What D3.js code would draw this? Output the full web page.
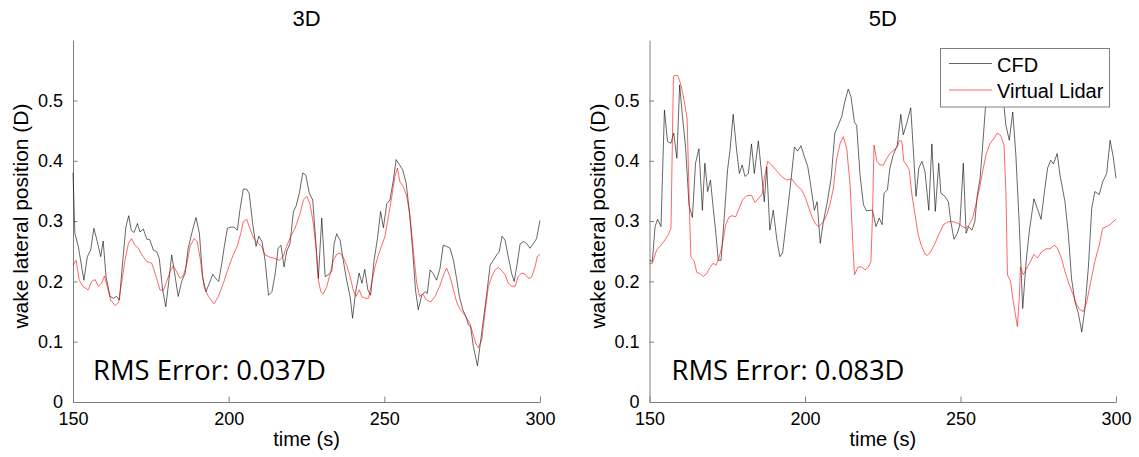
<!DOCTYPE html>
<html>
<head>
<meta charset="utf-8">
<script src="https://cdn.jsdelivr.net/npm/d3@7"></script>
<style>
  html, body { margin: 0; padding: 0; background: #fff; }
  svg { display: block; }
</style>
</head>
<body>
<svg id="chart" width="1139" height="457"></svg>
<script>
// Wake lateral position: CFD vs. virtual lidar, 3D and 5D downstream

const xTicks = [150, 200, 250, 300];
const yTicks = [0, 0.1, 0.2, 0.3, 0.4, 0.5];
const seriesNames = ["CFD", "Virtual Lidar"];
const panelTitles = ["3D", "5D"];
const rmsLabels = ["RMS Error: 0.037D", "RMS Error: 0.083D"];

// 3D — CFD
const t3Cfd = [150.0,150.6,151.7,153.5,154.6,155.7,156.7,157.8,158.9,159.7,160.6,161.9,163.0,164.0,164.9,166.0,167.0,167.9,168.7,169.6,170.7,171.5,172.6,173.7,174.7,175.8,176.9,177.7,178.8,179.8,180.7,181.7,182.8,183.8,184.9,186.0,187.0,188.4,189.5,190.6,191.6,192.7,193.8,194.9,195.8,196.8,197.8,198.6,199.6,200.6,201.7,202.8,203.6,204.7,205.8,206.6,207.7,208.8,209.7,210.7,211.7,212.8,213.9,214.9,215.9,216.8,217.8,218.6,219.7,220.8,221.6,222.7,223.8,224.8,225.9,227.0,228.1,228.8,229.9,231.0,232.0,233.1,233.9,234.7,235.8,236.8,237.9,239.0,239.8,240.7,241.9,242.8,243.7,244.7,245.6,246.7,247.8,248.8,249.7,250.8,251.8,252.9,253.8,254.8,255.9,257.0,258.0,259.1,260.0,260.9,262.0,263.1,263.8,264.7,265.7,266.8,267.9,268.9,270.0,271.1,272.2,273.2,274.1,275.2,276.2,277.0,277.7,278.6,279.9,281.8,282.9,284.0,285.0,286.1,286.9,287.8,288.8,289.8,290.9,291.7,292.7,293.6,294.7,295.7,296.8,297.9,298.9,300.0];
const v3Cfd = [0.380,0.280,0.258,0.202,0.241,0.252,0.288,0.266,0.241,0.267,0.208,0.175,0.172,0.175,0.169,0.235,0.291,0.309,0.285,0.281,0.296,0.282,0.287,0.270,0.269,0.252,0.249,0.238,0.186,0.158,0.197,0.244,0.208,0.175,0.200,0.213,0.255,0.285,0.306,0.280,0.208,0.183,0.197,0.212,0.205,0.200,0.230,0.258,0.288,0.290,0.290,0.285,0.318,0.353,0.353,0.346,0.296,0.258,0.275,0.266,0.235,0.177,0.183,0.211,0.255,0.260,0.224,0.249,0.263,0.316,0.324,0.346,0.380,0.376,0.346,0.335,0.258,0.205,0.305,0.208,0.211,0.216,0.263,0.279,0.268,0.235,0.202,0.175,0.139,0.180,0.214,0.197,0.220,0.186,0.177,0.235,0.271,0.316,0.289,0.329,0.335,0.368,0.402,0.394,0.385,0.363,0.318,0.252,0.186,0.153,0.177,0.183,0.180,0.219,0.213,0.202,0.222,0.260,0.258,0.255,0.235,0.205,0.175,0.153,0.142,0.128,0.125,0.092,0.060,0.136,0.180,0.227,0.235,0.244,0.249,0.275,0.268,0.241,0.213,0.200,0.230,0.262,0.266,0.263,0.255,0.263,0.271,0.301];

// 3D — Virtual Lidar
const t3Lidar = [150.0,151.0,152.0,153.3,154.9,156.0,157.1,158.1,159.2,160.1,161.0,162.1,163.5,164.6,165.6,166.7,167.8,168.8,169.9,171.0,172.1,173.7,175.3,176.7,177.9,179.0,180.1,181.2,182.2,183.3,184.4,185.4,186.5,187.6,188.9,189.9,191.0,192.1,193.5,195.3,196.7,198.3,199.9,201.3,202.8,203.9,204.7,205.8,206.8,208.1,209.5,210.6,211.7,213.3,214.9,216.3,217.6,218.6,219.9,221.3,222.9,224.0,225.1,226.1,227.2,228.1,228.8,229.6,230.4,231.5,232.6,233.6,234.7,235.8,236.8,237.9,239.0,240.0,240.9,242.0,242.7,243.8,244.9,245.9,247.0,248.1,249.2,250.2,251.3,252.4,253.4,254.2,255.0,256.1,257.2,258.3,259.3,260.4,261.3,262.3,263.6,264.9,266.3,267.7,269.2,270.0,271.1,272.2,273.2,274.3,275.4,276.5,277.5,278.4,279.4,280.2,281.3,282.3,283.4,284.5,285.6,286.6,287.7,288.8,289.8,290.9,292.0,293.0,294.1,295.2,296.3,297.3,298.4,299.2,300.0];
const v3Lidar = [0.227,0.235,0.202,0.191,0.186,0.200,0.203,0.192,0.197,0.209,0.191,0.169,0.160,0.165,0.197,0.235,0.263,0.271,0.260,0.255,0.244,0.233,0.230,0.208,0.186,0.185,0.200,0.216,0.226,0.216,0.205,0.209,0.227,0.258,0.271,0.266,0.233,0.191,0.175,0.163,0.175,0.197,0.222,0.242,0.259,0.280,0.299,0.303,0.288,0.271,0.263,0.258,0.244,0.240,0.238,0.235,0.242,0.258,0.274,0.288,0.312,0.335,0.341,0.329,0.296,0.252,0.202,0.183,0.179,0.191,0.213,0.235,0.245,0.247,0.240,0.227,0.208,0.186,0.175,0.186,0.175,0.172,0.172,0.197,0.224,0.244,0.260,0.275,0.307,0.341,0.374,0.388,0.365,0.357,0.341,0.307,0.252,0.197,0.175,0.179,0.169,0.166,0.175,0.191,0.213,0.222,0.208,0.186,0.166,0.154,0.147,0.139,0.130,0.114,0.097,0.090,0.103,0.147,0.191,0.208,0.219,0.223,0.218,0.211,0.197,0.192,0.192,0.208,0.214,0.212,0.205,0.207,0.224,0.242,0.245];

// 5D — CFD
const t5Cfd = [150.0,150.9,151.8,152.6,153.7,154.8,155.8,156.9,157.8,158.8,159.7,160.6,161.6,162.7,163.8,164.8,165.9,167.0,167.8,168.7,169.6,170.5,171.4,172.1,173.0,174.1,175.1,175.9,176.9,178.0,178.9,179.8,180.7,181.8,182.8,183.7,185.0,186.1,186.9,187.7,188.7,189.8,190.9,191.9,192.8,194.1,195.5,196.6,197.6,198.7,199.8,200.9,201.9,203.0,203.9,204.9,205.9,207.0,208.4,209.6,210.7,211.8,212.8,213.9,214.8,215.9,216.6,217.7,218.8,219.8,220.9,221.7,222.8,223.9,224.8,225.4,226.5,227.3,228.4,229.7,230.8,231.6,232.7,234.0,234.8,235.7,236.6,237.6,238.6,239.8,240.8,241.9,243.0,243.7,245.0,246.1,246.9,247.9,249.0,249.8,250.9,251.8,252.6,253.7,254.6,255.4,256.3,257.1,258.0,259.0,260.0,261.1,262.2,263.2,264.0,264.6,265.7,266.8,267.8,268.9,270.0,271.1,272.1,273.6,274.7,275.9,277.0,278.0,279.0,279.9,281.1,282.0,283.6,284.7,285.7,286.8,287.9,289.0,290.0,291.1,292.2,293.2,294.6,295.7,297.0,298.1,299.1,300.0];
const v5Cfd = [0.235,0.233,0.291,0.303,0.291,0.484,0.432,0.429,0.446,0.404,0.526,0.473,0.423,0.327,0.306,0.396,0.420,0.318,0.396,0.349,0.368,0.321,0.277,0.235,0.235,0.310,0.385,0.418,0.477,0.418,0.379,0.393,0.374,0.379,0.428,0.379,0.433,0.376,0.332,0.390,0.285,0.318,0.271,0.241,0.247,0.305,0.368,0.423,0.416,0.425,0.407,0.390,0.357,0.318,0.332,0.263,0.299,0.327,0.371,0.446,0.459,0.473,0.498,0.519,0.506,0.464,0.459,0.376,0.327,0.317,0.318,0.318,0.291,0.305,0.294,0.346,0.352,0.388,0.410,0.426,0.477,0.443,0.462,0.488,0.421,0.341,0.388,0.399,0.382,0.318,0.428,0.316,0.396,0.346,0.341,0.332,0.299,0.270,0.280,0.294,0.396,0.280,0.291,0.285,0.299,0.343,0.371,0.423,0.487,0.530,0.520,0.490,0.530,0.520,0.490,0.459,0.434,0.481,0.410,0.294,0.155,0.233,0.282,0.337,0.321,0.303,0.349,0.388,0.401,0.395,0.412,0.376,0.332,0.277,0.205,0.166,0.147,0.116,0.155,0.222,0.321,0.349,0.344,0.365,0.379,0.434,0.407,0.371];

// 5D — Virtual Lidar
const t5Lidar = [150.0,150.9,152.3,153.7,155.0,156.0,156.9,157.7,158.2,159.1,160.1,161.2,162.1,162.8,163.3,164.4,165.2,166.2,167.3,168.4,169.4,170.5,171.4,172.3,173.4,174.5,175.6,176.6,177.7,178.8,179.9,181.2,182.8,183.9,185.2,186.3,186.9,188.0,189.3,190.9,192.5,194.1,195.7,197.3,198.9,200.2,201.3,202.4,203.4,204.5,205.9,207.0,208.0,209.1,210.2,211.3,212.3,213.4,214.5,215.2,215.9,217.1,218.2,219.3,220.4,221.2,221.7,222.2,223.1,224.1,225.2,226.3,227.3,228.6,229.7,230.3,231.1,231.8,232.7,233.5,234.4,235.4,236.4,237.5,238.6,239.3,240.4,241.8,243.2,244.5,246.1,247.7,249.3,250.7,251.8,252.8,253.9,255.0,256.1,257.1,258.2,259.5,260.8,261.8,262.9,264.0,264.6,265.1,266.1,266.8,267.5,268.3,268.9,269.3,270.2,271.3,272.6,273.6,274.7,276.1,277.5,278.8,280.1,281.1,282.5,283.6,285.0,286.3,287.4,288.4,289.5,290.6,291.9,293.2,294.6,295.7,297.0,298.1,299.1,300.0];
const v5Lidar = [0.230,0.230,0.252,0.260,0.269,0.277,0.288,0.540,0.542,0.541,0.526,0.498,0.470,0.327,0.241,0.233,0.215,0.213,0.208,0.213,0.223,0.230,0.227,0.238,0.260,0.294,0.307,0.309,0.307,0.321,0.335,0.342,0.343,0.331,0.338,0.346,0.371,0.399,0.393,0.383,0.374,0.368,0.370,0.359,0.352,0.338,0.321,0.305,0.295,0.291,0.299,0.310,0.327,0.354,0.404,0.429,0.440,0.421,0.360,0.282,0.211,0.224,0.224,0.219,0.224,0.233,0.310,0.426,0.399,0.393,0.393,0.404,0.412,0.418,0.423,0.433,0.433,0.399,0.393,0.385,0.343,0.310,0.277,0.258,0.245,0.243,0.249,0.263,0.280,0.294,0.299,0.299,0.296,0.291,0.288,0.294,0.305,0.329,0.354,0.382,0.410,0.429,0.437,0.446,0.442,0.426,0.349,0.211,0.200,0.172,0.150,0.125,0.172,0.224,0.211,0.222,0.234,0.245,0.239,0.249,0.254,0.254,0.260,0.256,0.238,0.216,0.194,0.177,0.161,0.153,0.150,0.166,0.200,0.233,0.260,0.288,0.291,0.294,0.299,0.303];

const panelData = [
  { cfd: [t3Cfd, v3Cfd], lidar: [t3Lidar, v3Lidar] },
  { cfd: [t5Cfd, v5Cfd], lidar: [t5Lidar, v5Lidar] }
];

// ---- layout and styling ----
const svg = d3.select("#chart");
const axisColor = "#7f7f7f";
const labelFont = "'Liberation Sans', Arial, Helvetica, sans-serif";
const lineColors = { cfd: "#000000", lidar: "#ff0000" };
const yTop = 40.2, yBottom = 402;
const panelsX = [[73, 540], [649.5, 1116]];

panelData.forEach((pd, i) => {
  const [xl, xr] = panelsX[i];
  const x = d3.scaleLinear().domain([150, 300]).range([xl, xr]);
  const y = d3.scaleLinear().domain([0, 0.6]).range([yBottom, yTop]);
  const g = svg.append("g");

  // y axis (ticks point inward)
  const yAxis = g.append("g")
    .attr("transform", `translate(${xl},0)`)
    .call(d3.axisLeft(y).tickValues(yTicks)
      .tickFormat(d => d === 0 ? "0" : d3.format(".1f")(d))
      .tickSizeInner(-4.5).tickSizeOuter(0).tickPadding(10));
  // x axis
  const xAxis = g.append("g")
    .attr("transform", `translate(0,${yBottom})`)
    .call(d3.axisBottom(x).tickValues(xTicks)
      .tickSizeInner(-5.5).tickSizeOuter(0).tickPadding(10));

  [yAxis, xAxis].forEach(a => {
    a.attr("font-family", labelFont).attr("font-size", 18);
    a.selectAll("path.domain, line").attr("stroke", axisColor).attr("stroke-width", 1);
    a.selectAll("text").attr("fill", "#000");
  });

  // series lines
  const line = d3.line().x(d => x(d[0])).y(d => y(d[1]));
  const cfdPts = pd.cfd[0].map((t, k) => [t, pd.cfd[1][k]]);
  const lidarPts = pd.lidar[0].map((t, k) => [t, pd.lidar[1][k]]);
  g.append("path").datum(cfdPts).attr("d", line)
    .attr("fill", "none").attr("stroke", lineColors.cfd)
    .attr("stroke-width", 0.6).attr("stroke-linejoin", "round");
  g.append("path").datum(lidarPts).attr("d", line)
    .attr("fill", "none").attr("stroke", lineColors.lidar)
    .attr("stroke-width", 0.6).attr("stroke-linejoin", "round");

  // title
  g.append("text").attr("x", (xl + xr) / 2).attr("y", 25.5)
    .attr("text-anchor", "middle").attr("font-family", labelFont)
    .attr("font-size", 22).text(panelTitles[i]);

  // axis labels
  g.append("text").attr("x", (xl + xr) / 2).attr("y", 446)
    .attr("text-anchor", "middle").attr("font-family", labelFont)
    .attr("font-size", 20).text("time (s)");
  g.append("text")
    .attr("transform", `translate(${xl - 45},${(yTop + yBottom) / 2 - 5}) rotate(-90)`)
    .attr("text-anchor", "middle").attr("font-family", labelFont)
    .attr("font-size", 20).attr("textLength", 225).attr("lengthAdjust", "spacingAndGlyphs")
    .text("wake lateral position (D)");

  // RMS annotation
  g.append("text").attr("x", xl + (i === 0 ? 20 : 22)).attr("y", 380)
    .attr("font-family", "'Open Sans', Lato, sans-serif").attr("font-size", 28)
    .attr("textLength", 233).attr("lengthAdjust", "spacingAndGlyphs")
    .text(rmsLabels[i]);

  // legend in the right panel
  if (i === 1) {
    const lg = g.append("g");
    lg.append("rect").attr("x", 940.5).attr("y", 48.5).attr("width", 169).attr("height", 58.5)
      .attr("fill", "#fff").attr("stroke", axisColor).attr("stroke-width", 1);
    const keys = ["cfd", "lidar"];
    keys.forEach((k, j) => {
      const ly = 63.5 + j * 26.5;
      lg.append("line").attr("x1", 949).attr("x2", 992).attr("y1", ly).attr("y2", ly)
        .attr("stroke", lineColors[k]).attr("stroke-width", 0.6);
      lg.append("text").attr("x", 997).attr("y", ly + 8)
        .attr("font-family", labelFont).attr("font-size", 20).text(seriesNames[j]);
    });
  }
});
</script>
</body>
</html>
